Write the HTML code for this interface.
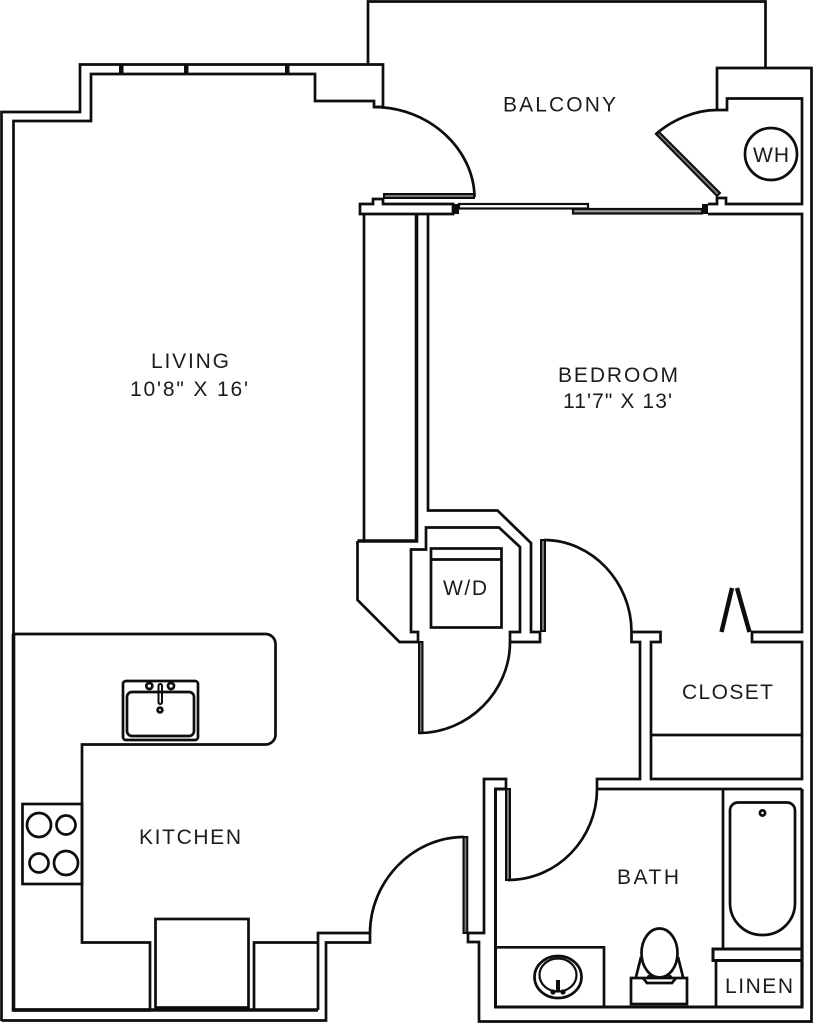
<!DOCTYPE html>
<html><head><meta charset="utf-8"><style>
html,body{margin:0;padding:0;background:#fff}
svg{display:block}
path,polyline,polygon,circle,ellipse,rect,line{fill:none;stroke:#0d0d0d;stroke-width:2.7;stroke-linejoin:miter}
text{font-family:"Liberation Sans",sans-serif;font-size:21px;fill:#1c1c1c;stroke:none}
.b{fill:#0d0d0d;stroke:none}
.t{stroke-width:3.6}
.s{stroke-width:2.2}
.g{fill:#777;stroke-width:2}
</style></head><body>
<svg width="813" height="1024" viewBox="0 0 813 1024" xmlns="http://www.w3.org/2000/svg">
<!-- exterior -->
<path d="M1.5 1021V112H80V64.5H383V107"/>
<path d="M368 64V1.5H765.5V68"/>
<path d="M717 110V68H811.5V1021.5H479V942H468V933H484V779H506V789"/>
<path d="M1.5 1020.5H326V942.5H370V933H318V1010"/>
<!-- inner top wall -->
<path d="M13.5 1010V121H91V74H315V101H374V107H383"/>
<rect class="b" x="119" y="65" width="4.5" height="9"/>
<rect class="b" x="184" y="65" width="4.5" height="9"/>
<rect class="b" x="285" y="65" width="4.5" height="9"/>
<path class="t" d="M13.5 634V1010H150"/>
<!-- living door -->
<path d="M374 107C430 107 474 150 474.5 197"/>
<rect class="g" x="384" y="194" width="90" height="4"/>
<!-- balcony wall -->
<path d="M360 204H373V199H383V204H453V214H360Z"/>
<rect class="b" x="453" y="204" width="6" height="10"/>
<rect class="s" x="459" y="204" width="129" height="4.5"/>
<rect class="s" x="573" y="209" width="129" height="4.5" style="fill:#999"/>
<rect class="b" x="702" y="204" width="6" height="10"/>
<path d="M708 204H717V198H726V204H802V98.5H727V110H717C695 110 672 120 656 134"/>
<path d="M708 214H802V632H752V642H802V779H651V642H660.5V632H631.5V642H640V779H597V789H802"/>
<line x1="651" y1="735" x2="802" y2="735"/>
<polygon class="g" points="656,134 659,132 720,193 717,196"/>
<circle cx="771" cy="154" r="26"/>
<!-- closet column -->
<path d="M364 214V541"/>
<path class="t" d="M416.5 214V541H357.5"/>
<path d="M357.5 541V600L399.5 642H418V632H411V549.5H426V527.5H499L520 547V632H510V642H540V632H531V543L497.5 510.5H428V214"/>
<rect x="431" y="548.5" width="70.5" height="79" stroke-width="2.4"/>
<line x1="431" y1="559.5" x2="501.5" y2="559.5"/>
<!-- w/d door -->
<rect class="g" x="419" y="642" width="3.5" height="91"/>
<path d="M419 733C468 733 510 692 510 642"/>
<!-- bedroom door -->
<rect class="g" x="541" y="540" width="4" height="91"/>
<path d="M544 540C592 540 631.5 582 631.5 632"/>
<!-- bifold -->
<line x1="721.5" y1="632" x2="732" y2="588" style="stroke-width:4.4"/>
<line x1="749.5" y1="632" x2="737" y2="588" style="stroke-width:4.4"/>
<!-- kitchen counter -->
<path d="M13.5 634H265A10 10 0 0 1 275.5 644V734A10 10 0 0 1 265 744.5H82V942.5H150V1010"/>
<path d="M318 942.5H254V1010"/>
<line x1="13.5" y1="1010" x2="318" y2="1010" style="stroke-width:3.4"/>
<rect x="155.5" y="919" width="93" height="88.5"/>
<rect x="22.5" y="804" width="59.5" height="80"/>
<circle cx="39" cy="825" r="12"/>
<circle cx="66" cy="825" r="9.5"/>
<circle cx="39" cy="863" r="9.5"/>
<circle cx="66" cy="863" r="12"/>
<!-- sink -->
<rect x="123" y="681" width="75" height="59" rx="3"/>
<rect x="127" y="692" width="67" height="44" rx="5"/>
<circle cx="149.3" cy="686" r="3"/>
<circle cx="171" cy="686" r="3"/>
<rect x="158.5" y="684" width="3.5" height="20" rx="1.7" style="stroke-width:2"/>
<circle cx="160" cy="710" r="2.4"/>
<!-- entry door -->
<path d="M370 933C370 882 412 837 464 837"/>
<rect class="g" x="463.5" y="837" width="3.8" height="96"/>
<!-- bath -->
<path d="M506 789H495.5V1007H802V789" style="stroke-width:3"/>
<path class="g" d="M506 789H510V880H506Z"/>
<path d="M508 880C558 880 597 838 597 789"/>
<path d="M723 789V949"/>
<path d="M802 949H713V960.5H802" style="stroke-width:3"/>
<path d="M716 961V1007"/>
<path d="M802 789V1007" style="stroke-width:3.2"/>
<path d="M738 802.5H787A8 8 0 0 1 795 810.5V903A32 32 0 0 1 763 935H762A32 32 0 0 1 730 903V810.5A8 8 0 0 1 738 802.5Z"/>
<circle cx="762.5" cy="813" r="2.6"/>
<!-- vanity -->
<path d="M495.5 947.3H604V1007"/>
<ellipse cx="558" cy="977" rx="23.5" ry="21"/>
<ellipse cx="558" cy="975" rx="18.5" ry="16.5" style="stroke-width:2.2"/>
<rect class="b" x="556" y="980" width="4" height="12"/>
<circle class="b" cx="553" cy="992" r="2.6"/>
<circle class="b" cx="563" cy="992" r="2.6"/>
<!-- toilet -->
<rect x="631" y="978" width="56" height="26"/>
<ellipse cx="659.5" cy="953" rx="18" ry="24.5"/>
<path d="M641 957L636 977M678 957L683 977"/>
<path d="M643 978L647 983H672L676 978"/>
<circle class="b" cx="649" cy="977" r="2"/>
<circle class="b" cx="670" cy="977" r="2"/>
<!-- labels -->
<text x="503" y="111.5" textLength="113" lengthAdjust="spacing">BALCONY</text>
<text x="151" y="368" textLength="78" lengthAdjust="spacing">LIVING</text>
<text x="130" y="396" textLength="118" lengthAdjust="spacing">10'8" X 16'</text>
<text x="558" y="382" textLength="120" lengthAdjust="spacing">BEDROOM</text>
<text x="563" y="408" textLength="109" lengthAdjust="spacing">11'7" X 13'</text>
<text x="443" y="595" textLength="44" lengthAdjust="spacing">W/D</text>
<text x="682" y="699" textLength="91" lengthAdjust="spacing">CLOSET</text>
<text x="139" y="844" textLength="102" lengthAdjust="spacing">KITCHEN</text>
<text x="617" y="884" textLength="62" lengthAdjust="spacing">BATH</text>
<text x="725" y="993" textLength="68" lengthAdjust="spacing">LINEN</text>
<text x="753" y="162" textLength="36" lengthAdjust="spacing">WH</text>
</svg>
</body></html>
